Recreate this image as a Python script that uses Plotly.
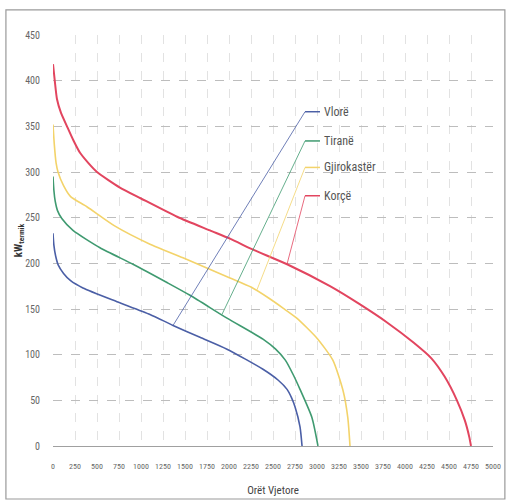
import plotly.graph_objects as go

# Data (hours vs kW)
vlore_x = [0, 10, 30, 60, 120, 200, 340, 727, 1102, 1364, 1670, 1977, 2386, 2560, 2660, 2710, 2750, 2807, 2830]
vlore_y = [233, 220, 208, 198, 189, 181, 173, 158, 144, 132, 119, 106, 84, 72, 62, 53, 43, 21, 0]

tirane_x = [0, 10, 25, 50, 100, 227, 534, 909, 1295, 1557, 1977, 2386, 2530, 2640, 2730, 2807, 2943, 3011]
tirane_y = [295, 280, 268, 258, 249, 236, 217, 199, 179, 165, 140, 117, 106, 94, 78, 62, 31, 0]

gjiro_x = [0, 15, 35, 57, 120, 200, 385, 700, 1102, 1477, 2011, 2250, 2450, 2614, 2770, 3000, 3180, 3295, 3350, 3375]
gjiro_y = [352, 330, 310, 300, 285, 273, 262, 241, 221, 206, 184, 174, 162, 151, 140, 118, 94, 61, 31, 0]

korce_x = [0, 20, 45, 90, 159, 230, 307, 400, 500, 760, 1000, 1410, 1784, 2011, 2273, 2660, 3148, 3489, 3800, 4100, 4300, 4450, 4590, 4680, 4730, 4750]
korce_y = [418, 400, 380, 365, 350, 335, 321, 310, 300, 283, 271, 251, 236, 227, 215, 199, 175, 155, 135, 113, 96, 76, 50, 28, 10, 0]

names = ["Vlorë", "Tiranë", "Gjirokastër", "Korçë"]
colors = ["#4b5fa6", "#3f9a70", "#f3d36a", "#e2455f"]
widths = [1.6, 1.6, 1.6, 2.0]

# label anchors and leader targets
label_y = [366, 334, 305, 274]
label_x0 = 2864
label_x1 = 3034
leader_x = [1364, 1920, 2318, 2659]
leader_y = [132, 144, 171, 199]

xs = [vlore_x, tirane_x, gjiro_x, korce_x]
ys = [vlore_y, tirane_y, gjiro_y, korce_y]

font_fam = "Liberation Sans Narrow, Roboto Condensed, Liberation Sans, Arial"

fig = go.Figure()
for n, c, w, x, y in zip(names, colors, widths, xs, ys):
    fig.add_trace(go.Scatter(x=x, y=y, mode="lines", name=n,
                             line=dict(color=c, width=w, shape="spline", smoothing=0.6)))

shapes = []
annotations = []
for n, c, ly, lx, lyy in zip(names, colors, label_y, leader_x, leader_y):
    shapes.append(dict(type="line", xref="x", yref="y", x0=label_x0, y0=ly, x1=label_x1, y1=ly,
                       line=dict(color=c, width=1.5)))
    shapes.append(dict(type="line", xref="x", yref="y", x0=label_x0, y0=ly, x1=lx, y1=lyy,
                       line=dict(color=c, width=0.8)))
    annotations.append(dict(x=label_x1 + 20, y=ly, xref="x", yref="y", text=n, showarrow=False,
                            xanchor="left", yanchor="middle",
                            font=dict(family=font_fam, size=12, color="#555555")))

# outer frame
shapes.append(dict(type="rect", xref="paper", yref="paper", x0=-0.107, x1=1.027, y0=-0.129, y1=1.061,
                   line=dict(color="#9a9a9a", width=1.2), layer="below"))

fig.update_layout(
    width=509, height=502,
    margin=dict(l=53, r=16, t=35, b=56),
    paper_bgcolor="white", plot_bgcolor="white",
    showlegend=False,
    shapes=shapes,
    annotations=annotations,
    font=dict(family=font_fam, size=10, color="#666666"),
    xaxis=dict(range=[0, 5000], tickmode="array", tickvals=list(range(0, 5001, 250)),
               showgrid=True, gridcolor="#e2e2e2", griddash="dash", gridwidth=1,
               zeroline=False, showline=False, ticks="", tickangle=0, automargin=False,
               tickfont=dict(size=8), ticklabelstandoff=14,
               title=dict(text="Orët Vjetore", font=dict(size=11, color="#444444"), standoff=16)),
    yaxis=dict(range=[0, 450], tickmode="array", tickvals=list(range(0, 451, 50)),
               showgrid=True, gridcolor="#bdbdbd", griddash="dash", gridwidth=1,
               zeroline=True, zerolinecolor="#a0a0a0", zerolinewidth=1, automargin=False,
               showline=False, ticks="", tickfont=dict(size=10), ticklabelstandoff=12,
               title=dict(text="<b>kW<sub>termik</sub></b>", font=dict(size=11, color="#333333"), standoff=0)),
)

fig.write_html("out.html")
